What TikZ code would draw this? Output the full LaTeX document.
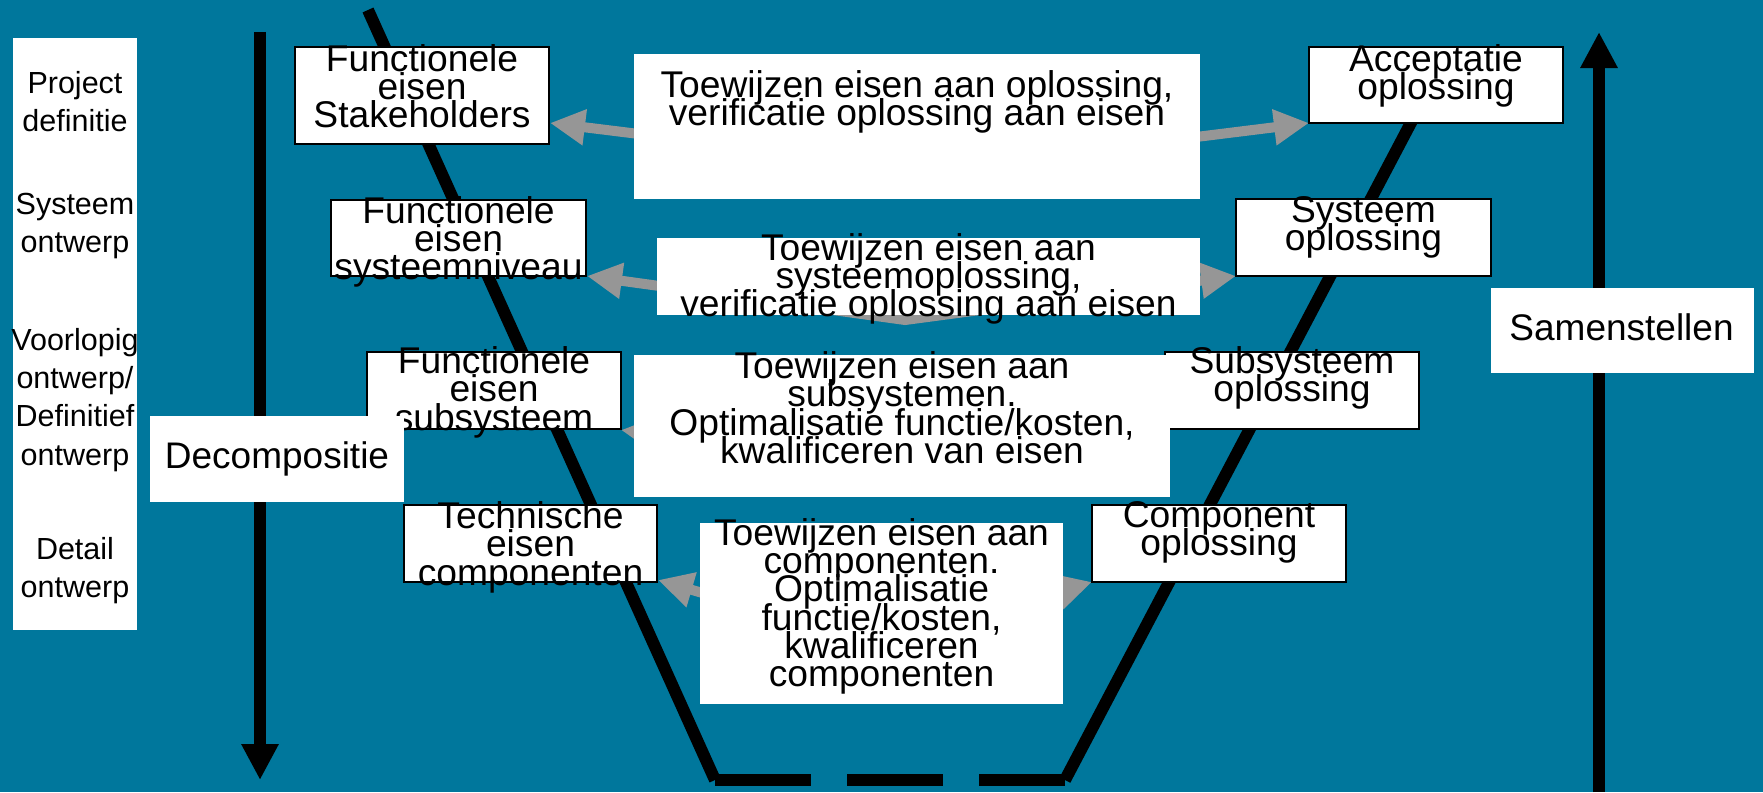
\documentclass[tikz,border=0pt]{standalone}
\usepackage{fontspec}
\setmainfont{Liberation Sans}[Ligatures=NoCommon]
\usetikzlibrary{arrows.meta}
\definecolor{bgteal}{RGB}{0,119,156}
\definecolor{arrgray}{RGB}{150,150,150}
\lineskiplimit=-1000pt
\newcommand\tightlines{\lineskiplimit=-1000pt\relax}
\begin{document}
\begin{tikzpicture}[x=1pt,y=-1pt,
  whitebox/.style={fill=white,draw=none,inner sep=0pt,outer sep=0pt,anchor=north west},
  framebox/.style={fill=white,draw=black,line width=1.6pt,inner sep=0pt,outer sep=0pt,anchor=north west},
  txt/.style={inner sep=0pt,outer sep=0pt,align=center,anchor=north,
     font=\fontsize{37.2pt}{28.3pt}\selectfont\tightlines},
  coltxt/.style={inner sep=0pt,outer sep=0pt,align=center,anchor=north,
     font=\fontsize{30.5pt}{38.3pt}\selectfont\tightlines},
  bigtxt/.style={inner sep=0pt,outer sep=0pt,anchor=base,font=\fontsize{37pt}{44pt}\selectfont},
  vline/.style={line width=12pt,black},
  grayarr/.style={draw=arrgray,line width=10pt,line join=miter,
     {Triangle[length=35pt,width=34pt]}-{Triangle[length=35pt,width=34pt]}},
  bigarr/.style={line width=11.5pt,black,-{Triangle[length=36pt,width=35pt]}}
]
\fill[bgteal] (0,0) rectangle (1763,792);
\useasboundingbox (0,0) rectangle (1763,792);

% V line
\coordinate (v1) at (368,10);
\coordinate (v2) at (715,780);
\coordinate (v3) at (1065,780);
\coordinate (v4) at (1415,115);
\draw[vline] (v1) -- (v2);
\draw[vline, dash pattern=on 96pt off 36pt] (v2) -- (v3);
\draw[vline] (v3) -- (v4);

% vertical arrows
\coordinate (decTop) at (260,32);
\coordinate (decBot) at (260,780);
\coordinate (samBot) at (1599,792);
\coordinate (samTop) at (1599,32);
\draw[bigarr] (decTop) -- (decBot);
\draw[bigarr] (samBot) -- (samTop);

% gray double arrows
\coordinate (r1l) at (550,123); \coordinate (r1m) at (930,170); \coordinate (r1r) at (1309,123);
\coordinate (r2l) at (587,276); \coordinate (r2m) at (905,320); \coordinate (r2r) at (1236,276);
\coordinate (r3l) at (621,430); \coordinate (r3m) at (893,464); \coordinate (r3r) at (1165,430);
\coordinate (r4l) at (658,580); \coordinate (r4m) at (877,644); \coordinate (r4r) at (1092,582);
\draw[grayarr] (r1l) -- (r1m) -- (r1r);
\draw[grayarr] (r2l) -- (r2m) -- (r2r);
\draw[grayarr] (r3l) -- (r3m) -- (r3r);
\draw[grayarr] (r4l) -- (r4m) -- (r4r);

% left phase column
\node[whitebox, minimum width=124pt, minimum height=592pt] (col) at (13,38) {};
\node[coltxt] (p1) at (75,71.2) {Project\\definitie};
\node[coltxt] (p2) at (75,193.2) {Systeem\\ontwerp};
\node[coltxt] (p3) at (75,328.2) {Voorlopig\\ontwerp/\\Definitief\\ontwerp};
\node[coltxt] (p4) at (75,537.2) {Detail\\ontwerp};

% framed boxes left
\node[framebox, minimum width=254pt, minimum height=97pt] (A) at (295,47) {};
\node[txt] (At) at (422,44.1) {Functionele\\eisen\\Stakeholders};
\node[framebox, minimum width=255pt, minimum height=76pt] (B) at (331,200) {};
\node[txt] (Bt) at (458.5,196.1) {Functionele\\eisen\\systeemniveau};
\node[framebox, minimum width=254pt, minimum height=77pt] (C) at (367,352) {};
\node[txt] (Ct) at (494,346.5) {Functionele\\eisen\\subsysteem};
\node[framebox, minimum width=253pt, minimum height=77pt] (D) at (404,505) {};
\node[txt] (Dt) at (530.5,501.7) {Technische\\eisen\\componenten};

% framed boxes right
\node[framebox, minimum width=254pt, minimum height=76pt] (E) at (1309,47) {};
\node[txt] (Et) at (1436,44.1) {Acceptatie\\oplossing};
\node[framebox, minimum width=255pt, minimum height=77pt] (F) at (1236,199) {};
\node[txt] (Ft) at (1363.5,196.1) {Systeem\\oplossing};
\node[framebox, minimum width=254pt, minimum height=77pt] (G) at (1165,352) {};
\node[txt] (Gt) at (1292,346.7) {Subsysteem\\oplossing};
\node[framebox, minimum width=254pt, minimum height=77pt] (H) at (1092,505) {};
\node[txt] (Ht) at (1219,501.7) {Component\\oplossing};

% middle white boxes
\node[whitebox, minimum width=566pt, minimum height=145pt] (M1) at (634,54) {};
\node[txt] (M1t) at (917,70.1) {Toewijzen eisen aan oplossing,\\verificatie oplossing aan eisen};
\node[whitebox, minimum width=543pt, minimum height=77pt] (M2) at (657,238) {};
\node[txt] (M2t) at (928.5,233.4) {Toewijzen eisen aan\\systeemoplossing,\\verificatie oplossing aan eisen};
\node[whitebox, minimum width=536pt, minimum height=142pt] (M3) at (634,355) {};
\node[txt] (M3t) at (902,351.7) {Toewijzen eisen aan\\subsystemen.\\Optimalisatie functie/kosten,\\kwalificeren van eisen};
\node[whitebox, minimum width=363pt, minimum height=181pt] (M4) at (700,523) {};
\node[txt] (M4t) at (881.5,518.4) {Toewijzen eisen aan\\componenten.\\Optimalisatie\\functie/kosten,\\kwalificeren\\componenten};

% side labels
\node[whitebox, minimum width=254pt, minimum height=86pt] (dec) at (150,416) {};
\node[bigtxt] (dect) at (277,468) {Decompositie};
\node[whitebox, minimum width=263pt, minimum height=85pt] (sam) at (1491,288) {};
\node[bigtxt] (samt) at (1621.5,340) {Samenstellen};
\end{tikzpicture}
\end{document}
